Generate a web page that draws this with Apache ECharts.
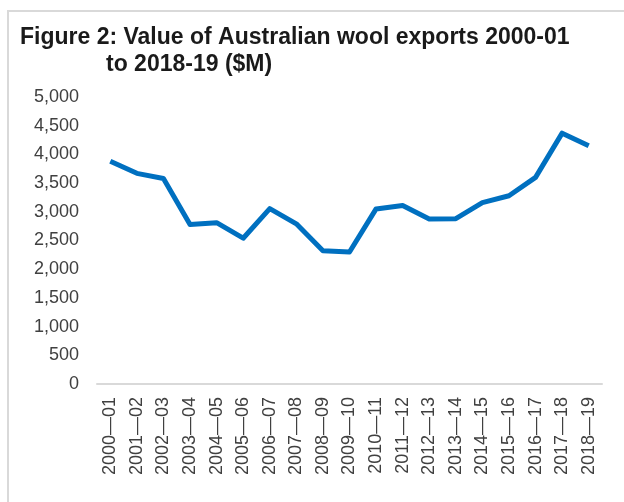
<!DOCTYPE html>
<html>
<head>
<meta charset="utf-8">
<script src="https://cdn.jsdelivr.net/npm/echarts@6/dist/echarts.min.js"></script>
<style>
    html, body { margin: 0; padding: 0; background: #fff; }
    #frame { position: absolute; left: 7px; top: 10px; width: 700px; height: 600px;
             border-left: 2px solid #d9d9d9; border-top: 2px solid #d9d9d9; }
    #chart { position: absolute; left: 0; top: 0; width: 624px; height: 502px; }
</style>
</head>
<body>
<div id="frame"></div>
<div id="chart"></div>
<script>
// 年度（财年）
const years = ['2000—01', '2001—02', '2002—03', '2003—04', '2004—05', '2005—06', '2006—07',
    '2007—08', '2008—09', '2009—10', '2010—11', '2011—12', '2012—13', '2013—14',
    '2014—15', '2015—16', '2016—17', '2017—18', '2018—19']
// 羊毛出口额 ($M)
const exportValue = [3880, 3670, 3580, 2780, 2810, 2540, 3055, 2790, 2320, 2300,
    3050, 3110, 2875, 2880, 3160, 3280, 3600, 4370, 4150]

function woolChart() {
    const el = document.querySelector('#chart')
    const myChart = echarts.init(el)
    const font = '"Liberation Sans", Arial, sans-serif'
    const titleStyle = { fontFamily: font, fontSize: 23, fontWeight: 'bold', color: '#1a1a1a' }
    const option = {
        animation: false,
        title: [
            {
                text: 'Figure 2: Value of Australian wool exports 2000-01',
                left: 20,
                top: 26,
                padding: 0,
                textStyle: titleStyle
            },
            {
                text: 'to 2018-19 ($M)',
                left: 106,
                top: 53,
                padding: 0,
                textStyle: titleStyle
            }
        ],
        grid: {
            left: 97,
            right: 22,
            top: 97,
            bottom: 118
        },
        xAxis: {
            type: 'category',
            data: years,
            axisLine: { lineStyle: { color: '#d9d9d9', width: 2 } },
            axisTick: { show: false },
            axisLabel: {
                rotate: 90,
                interval: 0,
                margin: 13,
                color: '#404040',
                fontFamily: font,
                fontSize: 18
            }
        },
        yAxis: {
            type: 'value',
            min: 0,
            max: 5000,
            interval: 500,
            splitLine: { show: false },
            axisLine: { show: false },
            axisTick: { show: false },
            axisLabel: {
                margin: 18,
                color: '#404040',
                fontFamily: font,
                fontSize: 18,
                formatter: v => v.toLocaleString('en-US')
            }
        },
        series: [
            {
                type: 'line',
                data: exportValue,
                symbol: 'none',
                lineStyle: { color: '#0070c0', width: 5, join: 'round' }
            }
        ]
    }
    myChart.setOption(option)
}
woolChart()
</script>
</body>
</html>
